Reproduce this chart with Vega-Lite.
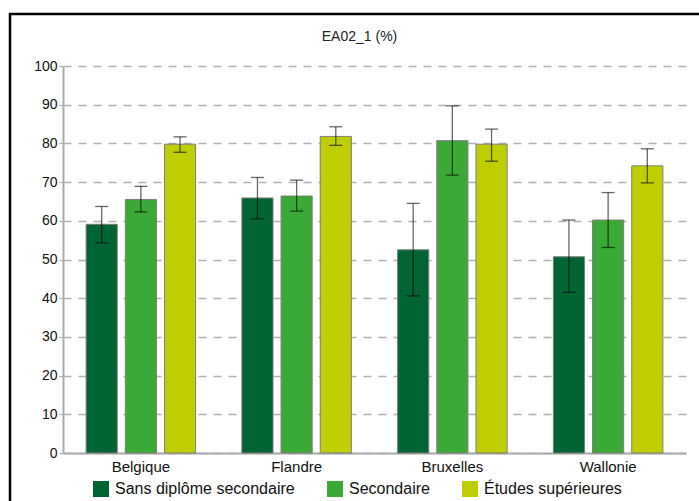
{
  "$schema": "https://vega.github.io/schema/vega-lite/v6.json",
  "width": 699,
  "height": 497,
  "autosize": {"type": "none"},
  "padding": {"left": 10, "top": 14, "right": 0, "bottom": 0},
  "background": "white",
  "config": {
    "view": {"stroke": "black", "strokeWidth": 2.5},
    "font": "Liberation Sans"
  },
  "title": {
    "text": "EA02_1 (%)",
    "fontSize": 14,
    "fontWeight": "normal",
    "color": "#222",
    "anchor": "middle",
    "frame": "group",
    "offset": -30
  },
  "data": {
    "values": [
      {"region": "Belgique", "niveau": "Sans diplôme secondaire", "value": 59.1, "lo": 54.3, "hi": 63.7},
      {"region": "Belgique", "niveau": "Secondaire", "value": 65.5, "lo": 62.3, "hi": 68.9},
      {"region": "Belgique", "niveau": "Études supérieures", "value": 79.8, "lo": 77.7, "hi": 81.7},
      {"region": "Flandre", "niveau": "Sans diplôme secondaire", "value": 65.9, "lo": 60.5, "hi": 71.2},
      {"region": "Flandre", "niveau": "Secondaire", "value": 66.4, "lo": 62.5, "hi": 70.5},
      {"region": "Flandre", "niveau": "Études supérieures", "value": 81.8, "lo": 79.5, "hi": 84.3},
      {"region": "Bruxelles", "niveau": "Sans diplôme secondaire", "value": 52.5, "lo": 40.6, "hi": 64.5},
      {"region": "Bruxelles", "niveau": "Secondaire", "value": 80.7, "lo": 71.8, "hi": 89.7},
      {"region": "Bruxelles", "niveau": "Études supérieures", "value": 79.8, "lo": 75.4, "hi": 83.7},
      {"region": "Wallonie", "niveau": "Sans diplôme secondaire", "value": 50.7, "lo": 41.5, "hi": 60.2},
      {"region": "Wallonie", "niveau": "Secondaire", "value": 60.2, "lo": 53.1, "hi": 67.3},
      {"region": "Wallonie", "niveau": "Études supérieures", "value": 74.2, "lo": 69.8, "hi": 78.6}
    ]
  },
  "encoding": {
    "x": {
      "field": "region",
      "type": "nominal",
      "sort": ["Belgique", "Flandre", "Bruxelles", "Wallonie"],
      "scale": {"range": [53, 676], "paddingInner": 0, "paddingOuter": 0},
      "axis": {
        "title": null,
        "orient": "bottom",
        "offset": -58,
        "labelAngle": 0,
        "ticks": false,
        "tickSize": 0,
        "labelPadding": 6,
        "labelFontSize": 15,
        "labelColor": "#111",
        "domainColor": "#aaaaaa",
        "domainWidth": 2,
        "grid": false
      }
    },
    "xOffset": {
      "field": "niveau",
      "type": "nominal",
      "sort": ["Sans diplôme secondaire", "Secondaire", "Études supérieures"],
      "scale": {"paddingInner": 0.205, "paddingOuter": 0.59}
    }
  },
  "layer": [
    {
      "mark": {"type": "bar", "stroke": "#7d7d7d", "strokeWidth": 1},
      "encoding": {
        "y": {
          "field": "value",
          "type": "quantitative",
          "scale": {"domain": [0, 100], "range": [439, 52], "nice": false},
          "axis": {
            "title": null,
            "offset": -53,
            "values": [0, 10, 20, 30, 40, 50, 60, 70, 80, 90, 100],
            "grid": true,
            "gridDash": [8, 7],
            "gridColor": "#b0b0b0",
            "gridWidth": 1.3,
            "domainColor": "#aaaaaa",
            "domainWidth": 2,
            "tickColor": "#aaaaaa",
            "tickSize": 4,
            "labelPadding": 2,
            "labelFontSize": 14,
            "labelColor": "#111"
          }
        },
        "color": {
          "field": "niveau",
          "type": "nominal",
          "scale": {
            "domain": ["Sans diplôme secondaire", "Secondaire", "Études supérieures"],
            "range": ["#006532", "#3aa935", "#bfce00"]
          },
          "legend": {
            "title": null,
            "orient": "none",
            "legendX": 83,
            "legendY": 467,
            "direction": "horizontal",
            "symbolType": "square",
            "symbolSize": 256,
            "symbolStrokeWidth": 0,
            "symbolOpacity": 1,
            "labelFontSize": 16,
            "labelColor": "#111",
            "labelOffset": 6,
            "columnPadding": 32,
            "labelLimit": 400
          }
        }
      }
    },
    {
      "mark": {"type": "rule", "color": "#000", "opacity": 0.6, "strokeWidth": 1.3},
      "encoding": {
        "y": {"field": "lo", "type": "quantitative"},
        "y2": {"field": "hi"}
      }
    },
    {
      "mark": {"type": "tick", "color": "#000", "opacity": 0.6, "size": 13, "thickness": 1.3},
      "encoding": {
        "y": {"field": "lo", "type": "quantitative"}
      }
    },
    {
      "mark": {"type": "tick", "color": "#000", "opacity": 0.6, "size": 13, "thickness": 1.3},
      "encoding": {
        "y": {"field": "hi", "type": "quantitative"}
      }
    }
  ]
}
